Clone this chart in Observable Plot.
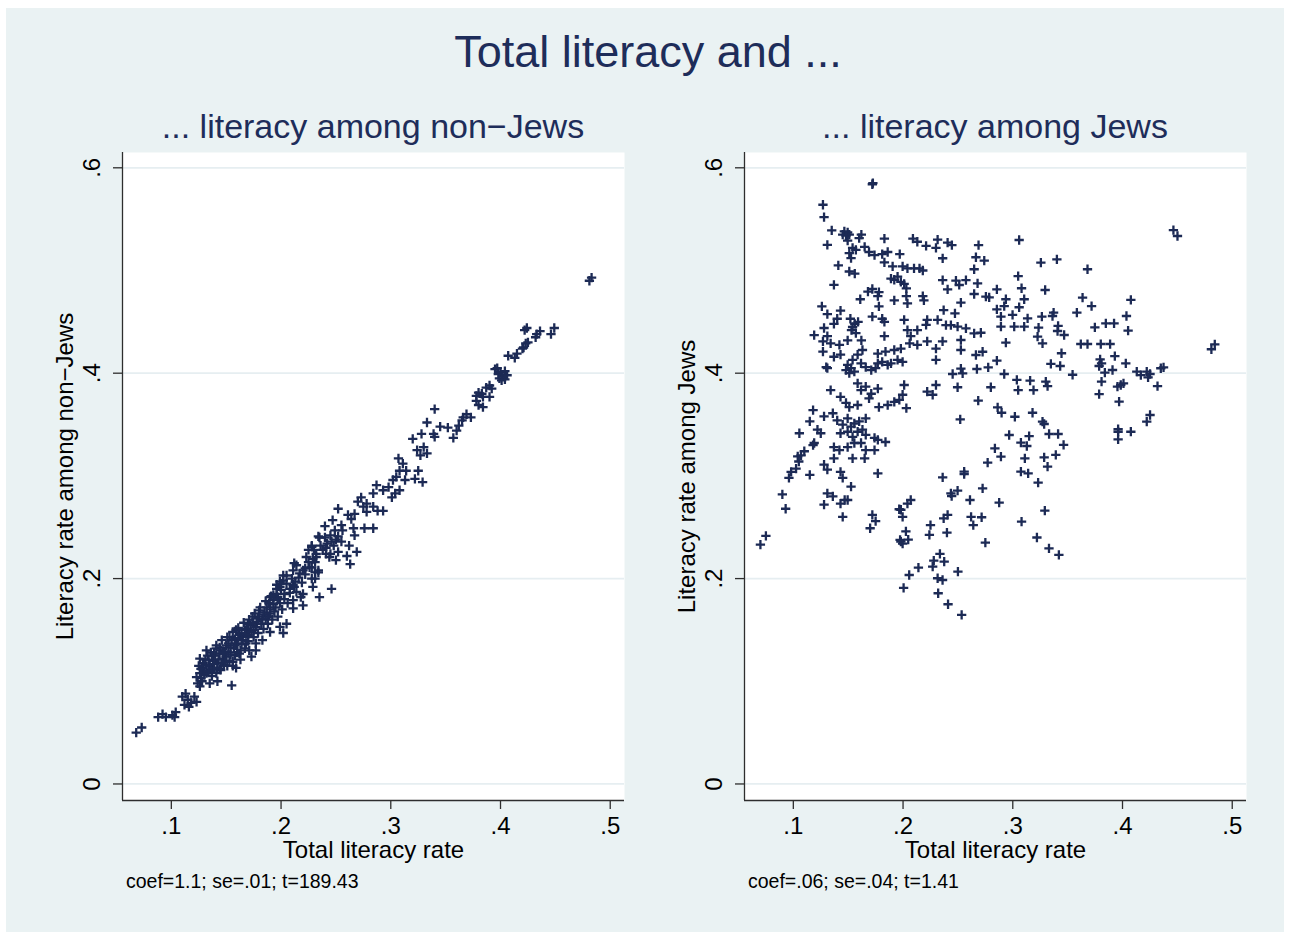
<!DOCTYPE html>
<html><head><meta charset="utf-8">
<script src="https://cdn.jsdelivr.net/npm/d3@7"></script>
<script src="https://cdn.jsdelivr.net/npm/@observablehq/plot@0.6"></script>
<style>
html,body{margin:0;padding:0;background:#fff;}
#page{position:absolute;left:0;top:0;width:1290px;height:938px;background:#fff;font-family:"Liberation Sans",Arial,Helvetica,sans-serif;}
#bg{position:absolute;left:6px;top:8px;width:1278px;height:924px;background:#eaf2f3;}
.t{position:absolute;white-space:nowrap;line-height:1;}
.p{position:absolute;}
</style></head><body>
<div id="page"><div id="bg"></div></div>
<script>
// ---- text ----
const mainTitle = "Total literacy and ...";
const panelTitles = ["... literacy among non\u2212Jews", "... literacy among Jews"];
const yLabels = ["Literacy rate among non\u2212Jews", "Literacy rate among Jews"];
const xLabel = "Total literacy rate";
const captions = ["coef=1.1; se=.01; t=189.43", "coef=.06; se=.04; t=1.41"];
const xTicks = [0.1, 0.2, 0.3, 0.4, 0.5];
const yTicks = [0, 0.2, 0.4, 0.6];
const tickLabel = d => d === 0 ? "0" : String(d).replace(/^0/, "");

// ---- data: [total literacy rate, literacy among non-Jews] ----
const nonJews = [
[0.481,0.490],[0.483,0.493],[0.422,0.442],[0.424,0.444],[0.433,0.438],[0.436,0.441],[0.432,0.435],
[0.446,0.438],[0.449,0.444],[0.421,0.425],[0.423,0.429],[0.420,0.424],[0.425,0.430],
[0.407,0.417],[0.413,0.415],[0.415,0.419],[0.395,0.404],[0.398,0.399],[0.400,0.401],[0.402,0.397],
[0.399,0.395],[0.404,0.402],[0.406,0.398],[0.397,0.405],[0.401,0.393],[0.404,0.394],
[0.390,0.388],[0.387,0.386],[0.392,0.385],[0.380,0.381],[0.378,0.378],[0.383,0.380],[0.384,0.377],
[0.390,0.377],[0.378,0.373],[0.380,0.369],[0.384,0.367],[0.340,0.365],[0.369,0.360],[0.366,0.357],
[0.373,0.357],[0.333,0.352],[0.345,0.348],[0.352,0.347],[0.362,0.349],[0.360,0.344],[0.365,0.354],
[0.320,0.336],[0.328,0.341],[0.339,0.341],[0.340,0.338],[0.357,0.337],[0.324,0.325],[0.330,0.328],
[0.333,0.322],[0.327,0.320],[0.307,0.317],[0.311,0.312],[0.308,0.305],[0.314,0.305],[0.305,0.299],
[0.325,0.305],[0.322,0.297],[0.329,0.294],[0.302,0.296],[0.313,0.296],[0.287,0.291],[0.284,0.283],
[0.293,0.286],[0.298,0.289],[0.301,0.279],[0.308,0.286],[0.304,0.283],[0.273,0.279],[0.270,0.275],
[0.278,0.273],[0.275,0.270],[0.284,0.270],[0.288,0.266],[0.293,0.266],[0.252,0.268],[0.261,0.262],
[0.267,0.263],[0.264,0.258],[0.278,0.265],[0.240,0.251],[0.247,0.257],[0.255,0.252],[0.256,0.247],
[0.249,0.247],[0.266,0.249],[0.276,0.249],[0.284,0.249],[0.267,0.242],[0.245,0.242],[0.240,0.240],
[0.250,0.238],[0.255,0.236],[0.262,0.232],[0.248,0.232],[0.242,0.234],[0.235,0.240],[0.238,0.228],
[0.252,0.226],[0.245,0.224],[0.260,0.222],[0.232,0.224],[0.228,0.232],[0.269,0.226],[0.250,0.218],
[0.263,0.214],[0.244,0.221],[0.241,0.224],[0.212,0.215],[0.217,0.205],[0.222,0.210],[0.226,0.211],
[0.231,0.206],[0.234,0.208],[0.228,0.200],[0.223,0.221],[0.229,0.219],[0.232,0.221],[0.225,0.228],
[0.228,0.231],[0.234,0.241],[0.202,0.203],[0.199,0.197],[0.205,0.195],[0.196,0.194],[0.200,0.189],
[0.211,0.194],[0.214,0.187],[0.220,0.185],[0.203,0.185],[0.193,0.184],[0.190,0.182],[0.197,0.182],
[0.246,0.190],[0.235,0.182],[0.218,0.182],[0.229,0.192],[0.212,0.192],[0.208,0.190],
[0.068,0.050],[0.073,0.055],[0.088,0.065],[0.092,0.068],[0.095,0.065],[0.101,0.067],[0.104,0.070],
[0.103,0.065],[0.110,0.085],[0.115,0.082],[0.112,0.077],[0.118,0.079],[0.121,0.085],[0.123,0.080],
[0.116,0.075],[0.113,0.088],[0.126,0.095],[0.124,0.098],[0.127,0.103],[0.130,0.106],[0.126,0.108],
[0.129,0.113],[0.135,0.098],[0.142,0.100],[0.155,0.096],[0.159,0.113],[0.136,0.111],[0.126,0.122],
[0.132,0.130],[0.141,0.132],[0.144,0.127],[0.153,0.143],[0.159,0.150],[0.165,0.143],[0.168,0.137],
[0.171,0.130],[0.177,0.137],[0.183,0.140],[0.170,0.156],[0.174,0.163],[0.180,0.169],[0.187,0.172],
[0.193,0.179],[0.196,0.185],[0.199,0.192],[0.202,0.198],[0.205,0.203],[0.211,0.208],[0.214,0.213],
[0.220,0.208],[0.228,0.211],[0.231,0.216],[0.234,0.206],[0.231,0.200],[0.220,0.174],[0.211,0.171],
[0.211,0.179],[0.205,0.156],[0.199,0.153],[0.190,0.148],[0.202,0.147],[0.177,0.130],[0.173,0.124],
[0.162,0.127],[0.150,0.124],[0.145,0.111],[0.141,0.108],
[0.135,0.115],[0.138,0.120],[0.140,0.125],[0.142,0.118],[0.145,0.130],[0.147,0.122],[0.150,0.135],
[0.152,0.128],[0.155,0.140],[0.157,0.132],[0.160,0.137],[0.162,0.145],[0.165,0.140],[0.132,0.108],
[0.137,0.105],[0.144,0.112],[0.148,0.116],[0.153,0.120],[0.158,0.125],[0.163,0.130],[0.167,0.150],
[0.170,0.145],[0.172,0.155],[0.175,0.150],[0.178,0.158],[0.180,0.163],[0.183,0.160],[0.185,0.167],
[0.188,0.163],[0.190,0.170],[0.193,0.175],[0.195,0.172],[0.197,0.180],[0.129,0.118],[0.133,0.125],
[0.136,0.128],[0.127,0.112],[0.141,0.135],[0.146,0.140],[0.151,0.143],[0.156,0.148],[0.161,0.152],
[0.166,0.157],[0.171,0.160],[0.176,0.166],[0.181,0.172],[0.186,0.178],[0.191,0.183],[0.196,0.190],
[0.200,0.195],[0.134,0.121],[0.139,0.113],[0.143,0.121],[0.149,0.129],[0.154,0.133],[0.158,0.141],
[0.164,0.147],[0.169,0.151],[0.174,0.157],[0.179,0.161],[0.184,0.165],[0.189,0.176],[0.131,0.116],
[0.146,0.118],[0.151,0.115],[0.156,0.119],[0.139,0.127],
[0.123,0.104],[0.125,0.115],[0.128,0.100],[0.131,0.121],[0.134,0.110],[0.137,0.125],[0.139,0.117],
[0.142,0.113],[0.144,0.133],[0.147,0.128],[0.149,0.119],[0.152,0.137],[0.154,0.126],[0.156,0.115],
[0.158,0.135],[0.160,0.128],[0.161,0.142],[0.163,0.121],[0.164,0.136],[0.167,0.132],[0.168,0.146],
[0.170,0.139],[0.173,0.148],[0.175,0.143],[0.177,0.153],[0.179,0.147],[0.182,0.156],[0.184,0.151],
[0.186,0.161],[0.188,0.156],[0.190,0.166],[0.192,0.160],[0.194,0.168],[0.197,0.163],[0.199,0.176],
[0.201,0.170],[0.203,0.180],[0.206,0.176],[0.208,0.186],[0.210,0.200],[0.213,0.197],[0.216,0.201],
[0.219,0.196],[0.222,0.204],[0.225,0.216],[0.230,0.228],[0.236,0.232],[0.241,0.230],[0.246,0.236],
[0.252,0.241]
];

// ---- data: [total literacy rate, literacy among Jews] ----
const jews = [
[0.172,0.584],[0.1725,0.585],[0.127,0.564],[0.128,0.552],[0.135,0.539],[0.131,0.525],
[0.1465,0.538],[0.1495,0.537],[0.148,0.534],[0.151,0.535],[0.145,0.535],[0.1495,0.529],
[0.162,0.535],[0.160,0.5315],[0.141,0.505],[0.151,0.517],[0.1526,0.512],[0.154,0.522],[0.157,0.520],
[0.165,0.523],[0.169,0.518],[0.174,0.515],[0.181,0.516],[0.186,0.518],[0.183,0.508],[0.197,0.516],
[0.183,0.531],[0.151,0.499],[0.156,0.497],[0.1905,0.504],[0.1996,0.504],[0.204,0.502],[0.210,0.502],
[0.215,0.502],[0.218,0.500],[0.189,0.492],[0.192,0.491],[0.195,0.494],[0.198,0.489],[0.201,0.487],
[0.203,0.4825],[0.209,0.531],[0.213,0.528],[0.221,0.524],[0.230,0.522],[0.2315,0.530],[0.137,0.486],
[0.161,0.472],[0.168,0.4795],[0.172,0.482],[0.177,0.475],[0.178,0.479],[0.192,0.471],[0.203,0.475],
[0.204,0.468],[0.218,0.475],[0.219,0.471],[0.126,0.465],[0.131,0.4575],[0.137,0.448],[0.140,0.453],
[0.143,0.461],[0.152,0.453],[0.156,0.448],[0.159,0.450],[0.153,0.442],[0.157,0.439],[0.154,0.445],
[0.119,0.437],[0.128,0.444],[0.131,0.436],[0.127,0.431],[0.134,0.429],[0.142,0.4275],[0.1495,0.432],
[0.162,0.432],[0.172,0.455],[0.178,0.465],[0.181,0.453],[0.183,0.450],[0.183,0.436],[0.201,0.452],
[0.204,0.442],[0.207,0.436],[0.213,0.442],[0.222,0.452],[0.221,0.447],[0.2315,0.452],[0.236,0.431],
[0.222,0.431],[0.127,0.421],[0.137,0.416],[0.143,0.418],[0.130,0.406],[0.131,0.405],[0.1495,0.408],
[0.1526,0.405],[0.148,0.403],[0.151,0.400],[0.1556,0.4015],[0.154,0.413],[0.1586,0.418],[0.163,0.4226],
[0.1617,0.4096],[0.166,0.406],[0.171,0.403],[0.175,0.405],[0.177,0.4096],[0.181,0.411],[0.186,0.408],
[0.189,0.4096],[0.195,0.413],[0.1996,0.411],[0.177,0.419],[0.184,0.421],[0.192,0.4226],[0.198,0.424],
[0.206,0.429],[0.213,0.4275],[0.230,0.424],[0.230,0.413],[0.1586,0.390],[0.134,0.3836],[0.1617,0.3836],
[0.166,0.387],[0.171,0.380],[0.177,0.385],[0.169,0.3755],[0.143,0.377],[0.148,0.371],[0.151,0.367],
[0.1586,0.369],[0.178,0.367],[0.186,0.369],[0.192,0.372],[0.1966,0.374],[0.201,0.3885],[0.1996,0.379],
[0.203,0.366],[0.222,0.382],[0.227,0.379],[0.230,0.3885],[0.118,0.364],[0.115,0.353],[0.1055,0.3415],
[0.122,0.345],[0.125,0.3415],[0.128,0.358],[0.136,0.361],[0.140,0.354],[0.145,0.350],[0.1495,0.356],
[0.1526,0.348],[0.1556,0.351],[0.160,0.353],[0.166,0.356],[0.143,0.3415],[0.1495,0.343],[0.154,0.338],
[0.1586,0.343],[0.163,0.345],[0.166,0.340],[0.137,0.328],[0.142,0.325],[0.1495,0.328],[0.1556,0.332],
[0.1617,0.332],[0.166,0.325],[0.174,0.337],[0.184,0.333],[0.174,0.325],[0.177,0.335],[0.104,0.319],
[0.107,0.320],[0.1025,0.307],[0.098,0.304],[0.096,0.298],[0.110,0.324],[0.118,0.330],[0.115,0.301],
[0.128,0.311],[0.131,0.306],[0.137,0.317],[0.143,0.304],[0.145,0.298],[0.154,0.317],[0.165,0.317],
[0.177,0.3025],[0.1526,0.2895],[0.131,0.283],[0.136,0.280],[0.090,0.282],[0.093,0.268],[0.128,0.272],
[0.143,0.273],[0.1495,0.2765],[0.198,0.267],[0.204,0.273],[0.207,0.2765],[0.172,0.262],[0.145,0.260],
[0.2406,0.262],[0.2436,0.283],[0.2361,0.2986],[0.105,0.314],[0.119,0.332],[0.1468,0.2765],[0.1973,0.2376],
[0.322,0.240],[0.333,0.2295],[0.342,0.223],[0.070,0.233],[0.075,0.2415],[0.175,0.256],[0.170,0.249],
[0.1965,0.2675],[0.1996,0.260],[0.2026,0.246],[0.198,0.236],[0.1996,0.234],[0.2047,0.238],[0.225,0.252],
[0.224,0.2425],[0.237,0.2587],[0.240,0.2447],[0.262,0.260],[0.2716,0.2597],[0.264,0.252],[0.275,0.235],
[0.261,0.2765],[0.2876,0.274],[0.2336,0.224],[0.228,0.2174],[0.2375,0.2165],[0.227,0.2116],[0.214,0.2106],
[0.2056,0.2035],[0.250,0.2067],[0.2315,0.2003],[0.236,0.1986],[0.2005,0.191],[0.232,0.1857],[0.241,0.175],
[0.2534,0.1646],
[0.4464,0.5394],[0.4501,0.5336],[0.481,0.4233],[0.4841,0.4281],[0.3058,0.5297],[0.2406,0.5271],
[0.2445,0.5248],[0.2688,0.5248],[0.2361,0.5119],[0.2664,0.5129],[0.274,0.5096],[0.3256,0.5076],
[0.3402,0.5109],[0.3681,0.5012],[0.2648,0.5012],[0.3049,0.4946],[0.308,0.4827],[0.3295,0.481],
[0.2361,0.4907],[0.2482,0.4901],[0.2573,0.4907],[0.2679,0.4875],[0.2406,0.4817],[0.2512,0.4859],
[0.2648,0.4771],[0.2755,0.4745],[0.2785,0.4739],[0.2855,0.4817],[0.2937,0.472],[0.3104,0.472],
[0.2922,0.4654],[0.2855,0.4622],[0.3058,0.4642],[0.2527,0.4687],[0.2473,0.4583],[0.237,0.4615],
[0.2892,0.455],[0.2998,0.4567],[0.3135,0.4534],[0.3104,0.4453],[0.3013,0.4453],[0.2892,0.4453],
[0.3265,0.455],[0.3372,0.4589],[0.3362,0.4557],[0.3235,0.4443],[0.3226,0.4356],[0.3271,0.4291],
[0.3413,0.446],[0.3408,0.4411],[0.3468,0.4372],[0.3584,0.4589],[0.3636,0.4735],[0.3718,0.4654],
[0.4076,0.4713],[0.4036,0.4557],[0.4051,0.4414],[0.3748,0.4447],[0.3848,0.4486],[0.3923,0.4486],
[0.362,0.4284],[0.3681,0.4284],[0.3802,0.4284],[0.3887,0.4284],[0.3444,0.4194],[0.3347,0.409],
[0.3432,0.407],[0.3545,0.3985],[0.2391,0.4469],[0.2436,0.4469],[0.2497,0.4453],[0.2573,0.4437],
[0.2648,0.4388],[0.2709,0.4394],[0.2527,0.4323],[0.2527,0.4226],[0.2937,0.4297],[0.2664,0.4177],
[0.2725,0.4209],[0.2855,0.4122],[0.2776,0.4057],[0.2673,0.4041],[0.2922,0.3992],[0.3037,0.3934],
[0.3049,0.3836],[0.3158,0.3927],[0.3189,0.3836],[0.3301,0.3917],[0.3317,0.3875],[0.28,0.3863],
[0.2497,0.3863],[0.2452,0.3992],[0.2543,0.3999],[0.2527,0.4044],[0.2685,0.3732],[0.3796,0.4135],
[0.3809,0.4096],[0.3787,0.407],[0.393,0.4167],[0.403,0.4096],[0.3839,0.4005],[0.3909,0.4031],
[0.3809,0.3917],[0.3787,0.3797],[0.3969,0.3723],[0.3954,0.3869],[0.3984,0.3885],[0.4009,0.3901],
[0.413,0.4015],[0.4167,0.3982],[0.4221,0.4015],[0.4251,0.3992],[0.4233,0.396],[0.4319,0.3875],
[0.4349,0.4048],[0.4374,0.4057],[0.2862,0.3668],[0.2898,0.3615],[0.3019,0.3576],[0.318,0.3615],
[0.3271,0.3528],[0.3286,0.3505],[0.2967,0.3398],[0.3149,0.3388],[0.3074,0.3323],[0.3128,0.3291],
[0.3331,0.3408],[0.3413,0.3408],[0.3463,0.3301],[0.3392,0.3204],[0.3286,0.3181],[0.311,0.3171],
[0.2892,0.3187],[0.2837,0.3268],[0.2771,0.3129],[0.3074,0.3041],[0.314,0.3025],[0.3231,0.2934],
[0.3317,0.309],[0.2557,0.3041],[0.2557,0.3018],[0.2521,0.3551],[0.2725,0.2879],[0.2497,0.2856],
[0.2443,0.2804],[0.308,0.2554],[0.3292,0.2661],[0.396,0.3454],[0.396,0.343],[0.396,0.3356],
[0.4076,0.343],[0.4221,0.3528],[0.4251,0.3593]
];

// ---- styles ----
const NAVY = "#1c2a55";
const TITLE = "#1e2d5a";
const GRID = "#e6eef1";
const AXIS = "#2e2e2e";
const FONT = '"Liberation Sans", Arial, Helvetica, sans-serif';
const xDomain = [0.0555, 0.513];
const yDomain = [-0.0161, 0.6149];

function panel(points, yLabel) {
  return Plot.plot({
    width: 640, height: 730,
    marginLeft: 122, marginRight: 16, marginTop: 12, marginBottom: 70,
    x: {domain: xDomain},
    y: {domain: yDomain},
    style: {background: "transparent", fontFamily: FONT, fontSize: "24px", color: "#000", overflow: "visible"},
    marks: [
      Plot.frame({fill: "white", stroke: "none"}),
      Plot.ruleY(yTicks, {stroke: GRID, strokeWidth: 1.8}),
      Plot.axisX({ticks: xTicks, tickFormat: tickLabel, tickSize: 9, tickPadding: 7, stroke: AXIS, strokeWidth: 1.3, label: null, fontSize: 24, fill: "#000"}),
      Plot.axisY({ticks: yTicks, tickSize: 9, tickFormat: () => "", stroke: AXIS, strokeWidth: 1.3, label: null}),
      Plot.text(yTicks, {y: d => d, frameAnchor: "left", text: tickLabel, rotate: -90, dx: -30, textAnchor: "middle", lineAnchor: "middle", fontSize: 24, fill: "#000"}),
      Plot.ruleX([xDomain[0]], {stroke: AXIS, strokeWidth: 1.3}),
      Plot.ruleY([yDomain[0]], {stroke: AXIS, strokeWidth: 1.3}),
      Plot.dot(points, {x: d => d[0], y: d => d[1], symbol: "plus", r: 3.1, stroke: NAVY, strokeWidth: 2.3}),
      Plot.text([xLabel], {frameAnchor: "bottom", dy: 50, text: d => d, textAnchor: "middle", lineAnchor: "middle", fontSize: 24, fill: "#000"}),
      Plot.text([yLabel], {frameAnchor: "left", dx: -57, rotate: -90, text: d => d, textAnchor: "middle", lineAnchor: "middle", fontSize: 24, fill: "#000"})
    ]
  });
}

const page = document.getElementById("page");
function addText(str, left, top, size, color, width, align) {
  const d = document.createElement("div");
  d.className = "t";
  d.textContent = str;
  d.style.left = left + "px";
  d.style.top = top + "px";
  d.style.fontSize = size + "px";
  d.style.color = color;
  if (width) { d.style.width = width + "px"; d.style.textAlign = align || "center"; }
  page.appendChild(d);
}
addText(mainTitle, 0, 29, 45, TITLE, 1296, "center");
addText(panelTitles[0], 373 - 300, 109, 34, TITLE, 600, "center");
addText(panelTitles[1], 995 - 300, 109, 34, TITLE, 600, "center");

const lefts = [0, 622];
[nonJews, jews].forEach((pts, i) => {
  const wrap = document.createElement("div");
  wrap.className = "p";
  wrap.style.left = lefts[i] + "px";
  wrap.style.top = "140px";
  wrap.appendChild(panel(pts, yLabels[i]));
  page.appendChild(wrap);
});
addText(captions[0], 126, 872, 19.5, "#000");
addText(captions[1], 748, 872, 19.5, "#000");
</script></body></html>
